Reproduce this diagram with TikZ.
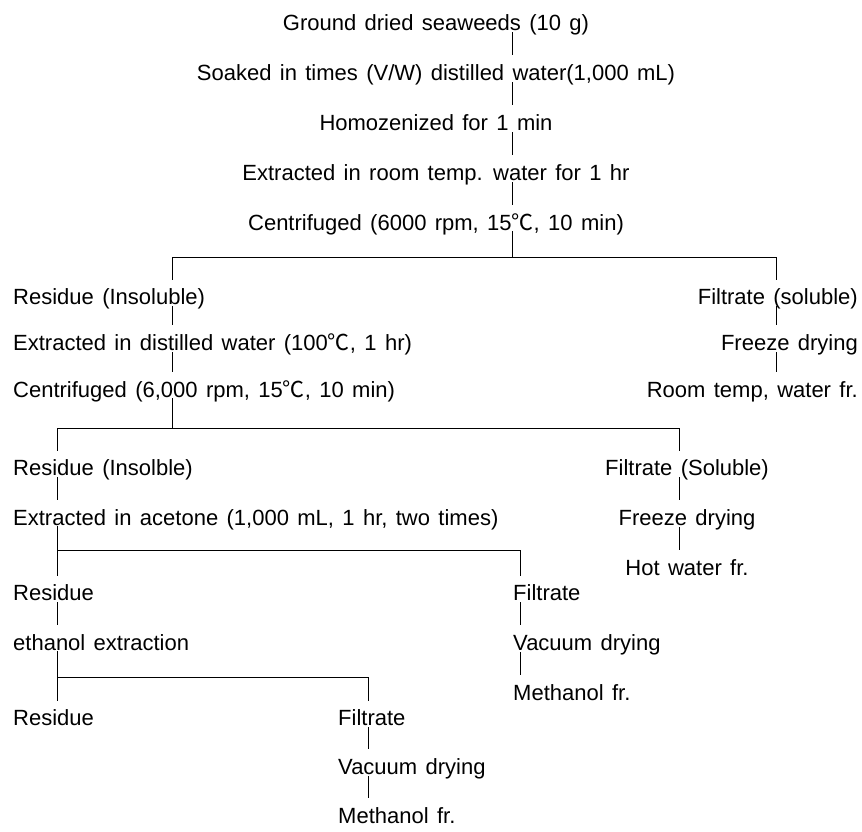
\documentclass[tikz,border=0pt]{standalone}
\usepackage{fontspec}
\setmainfont{Liberation Sans}[WordSpace=1.37]
\newfontfamily\cjk{Noto Sans CJK KR}
\newcommand{\degc}{{\cjk ℃}}
\usetikzlibrary{calc}

\begin{document}
\begin{tikzpicture}[x=1pt,y=-1pt,
  font=\fontsize{22}{26}\selectfont,
  lbl/.style={inner sep=0pt, text height=15.75pt, text depth=1pt},
  branch/.style={line width=1pt},
  link/.style={branch, shorten <=1pt, shorten >=9pt}]
  \useasboundingbox (0,0) rectangle (862,831);
  % Main extraction steps
  \node[lbl, anchor=base] (g1) at (436,30)  {Ground dried seaweeds (10 g)};
  \node[lbl, anchor=base] (g2) at (436,80)  {Soaked in times (V/W) distilled water(1,000 mL)};
  \node[lbl, anchor=base] (g3) at (436,130) {Homozenized for 1 min};
  \node[lbl, anchor=base] (g4) at (436,180) {Extracted in room temp. water for 1 hr};
  \node[lbl, anchor=base] (g5) at (436,230) {Centrifuged (6000 rpm, 15\degc, 10 min)};
  \coordinate (tx) at (512,0);
  \foreach \a/\b in {g1/g2,g2/g3,g3/g4,g4/g5}
    \draw[link] (\a.south -| tx) -- (\b.north -| tx);
  % First split: insoluble / soluble
  \coordinate (sp1) at (512,257);
  \coordinate (lx2) at (172,0);
  \coordinate (rx2) at (776,0);
  \draw[branch] (g5.south -| tx) -- (sp1);
  \draw[branch] (sp1 -| lx2) -- (sp1 -| rx2);
  \node[lbl, anchor=base west] (r1) at (13,304) {Residue (Insoluble)};
  \node[lbl, anchor=base west] (r2) at (13,350) {Extracted in distilled water (100\degc, 1 hr)};
  \node[lbl, anchor=base west] (r3) at (13,397) {Centrifuged (6,000 rpm, 15\degc, 10 min)};
  \node[lbl, anchor=base east] (f1) at (858,304) {Filtrate (soluble)};
  \node[lbl, anchor=base east] (f2) at (858,350) {Freeze drying};
  \node[lbl, anchor=base east] (f3) at (858,397) {Room temp, water fr.};
  \draw[branch, shorten >=8pt] (sp1 -| lx2) -- (r1.north -| lx2);
  \draw[branch, shorten >=8pt] (sp1 -| rx2) -- (f1.north -| rx2);
  \foreach \a/\b in {r1/r2,r2/r3}
    \draw[link] (\a.south -| lx2) -- (\b.north -| lx2);
  \foreach \a/\b in {f1/f2,f2/f3}
    \draw[link] (\a.south -| rx2) -- (\b.north -| rx2);
  % Second split: hot water
  \coordinate (sp2) at (172,428);
  \coordinate (lx3) at (57,0);
  \coordinate (rx3) at (679,0);
  \draw[branch] (r3.south -| lx2) -- (sp2);
  \draw[branch] (sp2 -| lx3) -- (sp2 -| rx3);
  \node[lbl, anchor=base west] (a1) at (13,475) {Residue (Insolble)};
  \node[lbl, anchor=base west] (a2) at (13,525) {Extracted in acetone (1,000 mL, 1 hr, two times)};
  \node[lbl, anchor=base] (h1) at (687,475) {Filtrate (Soluble)};
  \node[lbl, anchor=base] (h2) at (687,525) {Freeze drying};
  \node[lbl, anchor=base] (h3) at (687,575) {Hot water fr.};
  \draw[branch, shorten >=8pt] (sp2 -| lx3) -- (a1.north -| lx3);
  \draw[branch, shorten >=8pt] (sp2 -| rx3) -- (h1.north -| rx3);
  \draw[link] (a1.south -| lx3) -- (a2.north -| lx3);
  \foreach \a/\b in {h1/h2,h2/h3}
    \draw[link] (\a.south -| rx3) -- (\b.north -| rx3);
  % Third split: acetone
  \coordinate (sp3) at (57,550);
  \coordinate (rx4) at (520,0);
  \draw[branch] (a2.south -| lx3) -- (sp3);
  \draw[branch] (sp3) -- (sp3 -| rx4);
  \node[lbl, anchor=base west] (b1) at (13,600) {Residue};
  \node[lbl, anchor=base west] (b2) at (13,650) {ethanol extraction};
  \node[lbl, anchor=base west] (e1) at (513,600) {Filtrate};
  \node[lbl, anchor=base west] (e2) at (513,650) {Vacuum drying};
  \node[lbl, anchor=base west] (e3) at (513,700) {Methanol fr.};
  \draw[branch, shorten >=8pt] (sp3) -- (b1.north -| lx3);
  \draw[branch, shorten >=8pt] (sp3 -| rx4) -- (e1.north -| rx4);
  \draw[link] (b1.south -| lx3) -- (b2.north -| lx3);
  \foreach \a/\b in {e1/e2,e2/e3}
    \draw[link] (\a.south -| rx4) -- (\b.north -| rx4);
  % Fourth split: ethanol
  \coordinate (sp4) at (57,677);
  \coordinate (rx5) at (368,0);
  \draw[branch] (b2.south -| lx3) -- (sp4);
  \draw[branch] (sp4) -- (sp4 -| rx5);
  \node[lbl, anchor=base west] (c1) at (13,725) {Residue};
  \node[lbl, anchor=base west] (d1) at (338,725) {Filtrate};
  \node[lbl, anchor=base west] (d2) at (338,774) {Vacuum drying};
  \node[lbl, anchor=base west] (d3) at (338,823) {Methanol fr.};
  \draw[branch, shorten >=8pt] (sp4) -- (c1.north -| lx3);
  \draw[branch, shorten >=8pt] (sp4 -| rx5) -- (d1.north -| rx5);
  \foreach \a/\b in {d1/d2,d2/d3}
    \draw[link] (\a.south -| rx5) -- (\b.north -| rx5);
\end{tikzpicture}
\end{document}
